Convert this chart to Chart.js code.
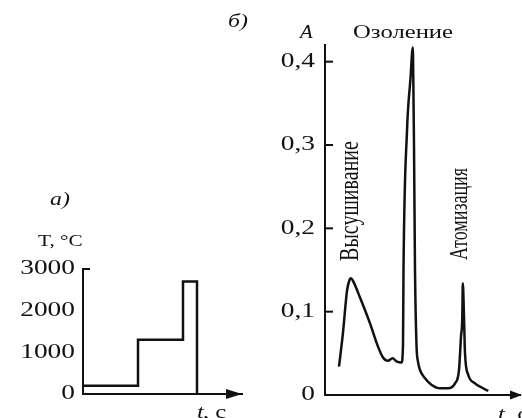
<!DOCTYPE html>
<html>
<head>
<meta charset="utf-8">
<script src="https://cdn.jsdelivr.net/npm/chart.js@4.4.1/dist/chart.umd.min.js"></script>
<style>
  html, body { margin: 0; padding: 0; background: #fff; }
  #wrap { position: relative; width: 522px; height: 418px; overflow: hidden; }
  canvas { position: absolute; left: 0; top: 0; }
</style>
</head>
<body>
<div id="wrap">
  <canvas id="tempChart" width="522" height="418"></canvas>
  <canvas id="absChart" width="522" height="418"></canvas>
</div>
<script>
// a) temperature program
var tempT = [0, 5.5, 10.0, 11.4];
var tempC = [200, 1300, 2700, 0];
var tempTicks = [3000];
var tempTickLabels = ['3000', '2000', '1000', '0'];
var tempTickValues = [3000, 2000, 1000, 0];

// б) absorbance signal
var absT = [1.4, 1.8, 2.2, 2.45, 2.6, 2.8, 3.5, 4.5, 5.3, 5.8, 6.3, 6.75, 7.2, 7.65,
            7.8, 7.85, 8.2, 8.55, 8.78, 8.83, 8.9, 9.0, 9.15, 9.3, 9.5, 10.0, 10.67,
            11.5, 12.3, 13.0, 13.4, 13.6, 13.73, 13.78, 13.9, 14.0, 14.33, 15.0, 15.67, 16.33];
var absA = [0.034, 0.075, 0.125, 0.138, 0.14, 0.137, 0.117, 0.086, 0.058, 0.045, 0.041, 0.044, 0.040, 0.039,
            0.06, 0.15, 0.317, 0.38, 0.417, 0.38, 0.30, 0.15, 0.06, 0.04, 0.03, 0.02, 0.012,
            0.008, 0.008, 0.014, 0.03, 0.07, 0.094, 0.134, 0.094, 0.05, 0.024, 0.014, 0.009, 0.005];
var absTickValues = [0.4, 0.3, 0.2, 0.1, 0];
var absTickLabels = ['0,4', '0,3', '0,2', '0,1', '0'];

var INK = '#111';
var SERIF = '"Liberation Serif", "Times New Roman", serif';

// the scan is stretched sideways, so text gets a horizontal scale
function txt(ctx, s, x, y, o) {
    o = o || {};
    ctx.save();
    ctx.translate(x, y);
    if (o.rot) {
        ctx.rotate(o.rot);
        ctx.scale(1, o.sx || 1.37);
    } else {
        ctx.scale(o.sx || 1.37, 1);
    }
    ctx.font = (o.italic ? 'italic ' : '') + (o.size || 20) + 'px ' + SERIF;
    ctx.fillStyle = INK;
    ctx.textAlign = o.align || 'left';
    ctx.textBaseline = o.base || 'middle';
    ctx.fillText(s, 0, 0);
    ctx.restore();
}

function arrow(ctx, tipX, y, len, half) {
    ctx.save();
    ctx.fillStyle = INK;
    ctx.beginPath();
    ctx.moveTo(tipX, y);
    ctx.lineTo(tipX - len, y - half);
    ctx.lineTo(tipX - len, y + half);
    ctx.closePath();
    ctx.fill();
    ctx.restore();
}

var tempDecor = {
    id: 'tempDecor',
    afterDraw: function (chart) {
        var ctx = chart.ctx;
        var y = chart.scales.y;
        var left = chart.chartArea.left, bottom = chart.chartArea.bottom;
        ctx.save();
        ctx.strokeStyle = INK;
        ctx.lineWidth = 2;
        tempTicks.forEach(function (v) {
            var py = y.getPixelForValue(v);
            ctx.beginPath();
            ctx.moveTo(left, py);
            ctx.lineTo(left + 7, py);
            ctx.stroke();
        });
        ctx.restore();
        tempTickValues.forEach(function (v, i) {
            txt(ctx, tempTickLabels[i], left - 8, y.getPixelForValue(v), { align: 'right', size: 20 });
        });
        arrow(ctx, chart.chartArea.right, bottom, 16, 5);
        txt(ctx, 'T, °C', 38, 242, { size: 17, sx: 1.25 });
        txt(ctx, 'a)', 50, 200, { size: 19, italic: true, sx: 1.25 });
        txt(ctx, 't', 197, 418, { size: 18, italic: true, base: 'alphabetic' });
        txt(ctx, ', c', 203, 418, { size: 18, base: 'alphabetic' });
    }
};

var absDecor = {
    id: 'absDecor',
    afterDraw: function (chart) {
        var ctx = chart.ctx;
        var y = chart.scales.y;
        var left = chart.chartArea.left, bottom = chart.chartArea.bottom;
        ctx.save();
        ctx.strokeStyle = INK;
        ctx.lineWidth = 2;
        absTickValues.forEach(function (v) {
            if (v === 0) return;
            var py = y.getPixelForValue(v);
            ctx.beginPath();
            ctx.moveTo(left, py);
            ctx.lineTo(left + 8, py);
            ctx.stroke();
        });
        ctx.restore();
        absTickValues.forEach(function (v, i) {
            txt(ctx, absTickLabels[i], left - 10, y.getPixelForValue(v), { align: 'right', size: 20 });
        });
        arrow(ctx, chart.chartArea.right + 2, bottom, 12, 4.5);
        txt(ctx, 'б)', 228, 22, { size: 19, italic: true, sx: 1.25 });
        txt(ctx, 'A', 300, 33, { size: 18, italic: true, sx: 1.15 });
        txt(ctx, 'Озоление', 353, 33, { size: 18 });
        txt(ctx, 'Высушивание', 351, 201, { size: 20, rot: -Math.PI / 2, align: 'center', sx: 1.35 });
        txt(ctx, 'Атомизация', 461, 214, { size: 18, rot: -Math.PI / 2, align: 'center', sx: 1.35 });
        txt(ctx, 't', 498, 420, { size: 18, italic: true, base: 'alphabetic' });
        txt(ctx, ', c', 505, 420, { size: 18, base: 'alphabetic' });
    }
};

function axisOpts(min, max, fitW, fitH, isY) {
    return {
        type: 'linear',
        min: min,
        max: max,
        grid: { display: false },
        border: { display: true, color: INK, width: 2 },
        ticks: { display: false },
        afterFit: function (s) {
            if (isY) { s.width = fitW; } else { s.height = fitH; }
        }
    };
}

new Chart(document.getElementById('tempChart'), {
    type: 'line',
    data: {
        datasets: [{
            data: tempT.map(function (t, i) { return { x: t, y: tempC[i] }; }),
            stepped: 'before',
            borderColor: INK,
            borderWidth: 2.5,
            pointRadius: 0,
            fill: false
        }]
    },
    options: {
        responsive: false,
        animation: false,
        layout: { padding: { left: 0, top: 269, right: 280, bottom: 0 } },
        plugins: { legend: { display: false }, tooltip: { enabled: false } },
        scales: {
            x: axisOpts(0, 15.9, 0, 24, false),
            y: axisOpts(0, 3000, 83, 0, true)
        }
    },
    plugins: [tempDecor]
});

new Chart(document.getElementById('absChart'), {
    type: 'line',
    data: {
        datasets: [{
            data: absT.map(function (t, i) { return { x: t, y: absA[i] }; }),
            borderColor: INK,
            borderWidth: 2.5,
            pointRadius: 0,
            cubicInterpolationMode: 'monotone',
            fill: false
        }]
    },
    options: {
        responsive: false,
        animation: false,
        layout: { padding: { left: 0, top: 45, right: 2, bottom: 0 } },
        plugins: { legend: { display: false }, tooltip: { enabled: false } },
        scales: {
            x: axisOpts(0, 19.5, 0, 23, false),
            y: axisOpts(0, 0.42, 325, 0, true)
        }
    },
    plugins: [absDecor]
});
</script>
</body>
</html>
